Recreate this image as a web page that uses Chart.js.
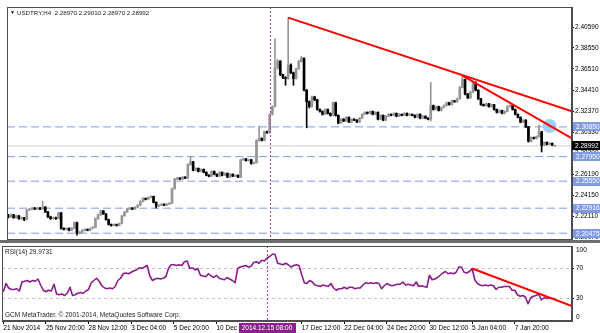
<!DOCTYPE html>
<html>
<head>
<meta charset="utf-8">
<script src="https://cdn.jsdelivr.net/npm/chart.js@4.4.1/dist/chart.umd.min.js"></script>
<style>
  html, body { margin: 0; padding: 0; background: #fff; }
  #wrap { position: relative; width: 600px; height: 333px; overflow: hidden; background: #fff; }
  canvas { position: absolute; left: 0; }
  #main { top: 0; }
  #rsi { top: 246px; }
</style>
</head>
<body>
<div id="wrap">
  <canvas id="main" width="600" height="247"></canvas>
  <canvas id="rsi" width="600" height="87"></canvas>
</div>
<script>
// USDTRY H4 bars
const open = [
  2.2215, 2.2208, 2.2227, 2.2199, 2.2217, 2.2189, 2.2199, 2.2180, 2.2274, 2.2283,
  2.2293, 2.2283, 2.2293, 2.2283, 2.2302, 2.2255, 2.2208, 2.2189, 2.2199, 2.2189,
  2.2246, 2.2095, 2.2085, 2.2095, 2.2076, 2.2095, 2.2151, 2.2048, 2.2057, 2.2076,
  2.2085, 2.2076, 2.2095, 2.2104, 2.2189, 2.2227, 2.2265, 2.2236, 2.2180, 2.2133,
  2.2123, 2.2133, 2.2123, 2.2142, 2.2217, 2.2255, 2.2283, 2.2293, 2.2283, 2.2302,
  2.2321, 2.2359, 2.2387, 2.2378, 2.2397, 2.2406, 2.2349, 2.2312, 2.2321, 2.2331,
  2.2321, 2.2331, 2.2340, 2.2481, 2.2576, 2.2585, 2.2576, 2.2595, 2.2585, 2.2717,
  2.2745, 2.2661, 2.2680, 2.2651, 2.2670, 2.2642, 2.2613, 2.2604, 2.2651, 2.2623,
  2.2604, 2.2642, 2.2613, 2.2632, 2.2595, 2.2623, 2.2604, 2.2613, 2.2595, 2.2764,
  2.2774, 2.2755, 2.2764, 2.2727, 2.2736, 2.2953, 2.2972, 2.2953, 2.3038, 2.3028,
  2.3208, 2.3283, 2.3660, 2.3726, 2.3594, 2.3566, 2.3557, 2.3689, 2.3613, 2.3557,
  2.3651, 2.3726, 2.3755, 2.3443, 2.3330, 2.3283, 2.3377, 2.3349, 2.3255, 2.3236,
  2.3208, 2.3255, 2.3217, 2.3198, 2.3321, 2.3198, 2.3123, 2.3160, 2.3142, 2.3179,
  2.3132, 2.3160, 2.3151, 2.3132, 2.3170, 2.3208, 2.3227, 2.3217, 2.3236, 2.3208,
  2.3227, 2.3160, 2.3198, 2.3151, 2.3189, 2.3208, 2.3198, 2.3217, 2.3189, 2.3208,
  2.3198, 2.3217, 2.3198, 2.3208, 2.3198, 2.3179, 2.3208, 2.3170, 2.3189, 2.3170,
  2.3160, 2.3293, 2.3255, 2.3283, 2.3245, 2.3274, 2.3293, 2.3321, 2.3302, 2.3340,
  2.3330, 2.3359, 2.3472, 2.3547, 2.3406, 2.3368, 2.3425, 2.3519, 2.3443, 2.3359,
  2.3302, 2.3293, 2.3311, 2.3283, 2.3302, 2.3255, 2.3227, 2.3245, 2.3217, 2.3236,
  2.3283, 2.3293, 2.3255, 2.3208, 2.3179, 2.3132, 2.3151, 2.3085, 2.2944, 2.2981,
  2.2972, 2.2991, 2.3038, 2.2906, 2.2934, 2.2915, 2.2925, 2.2897
];
const high = [
  2.2232, 2.2236, 2.2231, 2.2224, 2.2222, 2.2206, 2.2203, 2.2281, 2.2290, 2.2299,
  2.2298, 2.2297, 2.2300, 2.2359, 2.2308, 2.2260, 2.2214, 2.2205, 2.2204, 2.2252,
  2.2250, 2.2101, 2.2102, 2.2099, 2.2103, 2.2158, 2.2155, 2.2066, 2.2082, 2.2091,
  2.2090, 2.2100, 2.2112, 2.2196, 2.2235, 2.2272, 2.2270, 2.2240, 2.2185, 2.2138,
  2.2139, 2.2137, 2.2147, 2.2222, 2.2262, 2.2290, 2.2299, 2.2298, 2.2308, 2.2328,
  2.2366, 2.2394, 2.2392, 2.2403, 2.2414, 2.2410, 2.2354, 2.2327, 2.2336, 2.2335,
  2.2337, 2.2346, 2.2488, 2.2583, 2.2593, 2.2590, 2.2601, 2.2600, 2.2725, 2.2793,
  2.2750, 2.2687, 2.2685, 2.2676, 2.2675, 2.2647, 2.2619, 2.2657, 2.2655, 2.2628,
  2.2648, 2.2646, 2.2638, 2.2636, 2.2629, 2.2627, 2.2619, 2.2617, 2.2770, 2.2781,
  2.2778, 2.2770, 2.2768, 2.2742, 2.2960, 2.3094, 2.2978, 2.3044, 2.3045, 2.3215,
  2.3290, 2.3943, 2.3745, 2.3732, 2.3600, 2.3575, 2.4151, 2.3700, 2.3620, 2.3660,
  2.3735, 2.3775, 2.3760, 2.3450, 2.3340, 2.3385, 2.3384, 2.3355, 2.3262, 2.3242,
  2.3262, 2.3260, 2.3223, 2.3330, 2.3326, 2.3203, 2.3166, 2.3166, 2.3185, 2.3184,
  2.3166, 2.3165, 2.3156, 2.3176, 2.3214, 2.3233, 2.3232, 2.3242, 2.3240, 2.3233,
  2.3231, 2.3204, 2.3202, 2.3195, 2.3214, 2.3213, 2.3223, 2.3221, 2.3214, 2.3212,
  2.3223, 2.3221, 2.3214, 2.3212, 2.3203, 2.3214, 2.3212, 2.3195, 2.3193, 2.3175,
  2.3519, 2.3298, 2.3289, 2.3288, 2.3280, 2.3299, 2.3327, 2.3326, 2.3346, 2.3345,
  2.3365, 2.3479, 2.3585, 2.3552, 2.3412, 2.3432, 2.3535, 2.3525, 2.3448, 2.3364,
  2.3308, 2.3317, 2.3315, 2.3308, 2.3306, 2.3260, 2.3251, 2.3249, 2.3242, 2.3290,
  2.3300, 2.3297, 2.3260, 2.3213, 2.3184, 2.3157, 2.3156, 2.3090, 2.2987, 2.2986,
  2.2997, 2.3104, 2.3042, 2.2940, 2.2939, 2.2930, 2.2929, 2.2901
];
const low = [
  2.2196, 2.2201, 2.2192, 2.2194, 2.2183, 2.2184, 2.2171, 2.2176, 2.2268, 2.2277,
  2.2278, 2.2279, 2.2276, 2.2279, 2.2249, 2.2200, 2.2182, 2.2184, 2.2183, 2.2186,
  2.2088, 2.2078, 2.2080, 2.2070, 2.2072, 2.2090, 2.2029, 2.2040, 2.2052, 2.2070,
  2.2071, 2.2072, 2.2090, 2.2100, 2.2183, 2.2220, 2.2230, 2.2174, 2.2126, 2.2116,
  2.2118, 2.2117, 2.2119, 2.2138, 2.2212, 2.2250, 2.2278, 2.2277, 2.2279, 2.2297,
  2.2316, 2.2354, 2.2372, 2.2374, 2.2392, 2.2343, 2.2293, 2.2306, 2.2316, 2.2316,
  2.2317, 2.2326, 2.2336, 2.2476, 2.2570, 2.2570, 2.2571, 2.2580, 2.2580, 2.2711,
  2.2655, 2.2656, 2.2645, 2.2646, 2.2636, 2.2607, 2.2597, 2.2599, 2.2617, 2.2598,
  2.2600, 2.2607, 2.2608, 2.2589, 2.2590, 2.2598, 2.2599, 2.2589, 2.2590, 2.2758,
  2.2750, 2.2750, 2.2721, 2.2720, 2.2731, 2.2946, 2.2947, 2.2949, 2.3020, 2.3022,
  2.3200, 2.3278, 2.3650, 2.3585, 2.3555, 2.3491, 2.3550, 2.3605, 2.3491, 2.3550,
  2.3645, 2.3718, 2.3435, 2.3076, 2.3270, 2.3278, 2.3340, 2.3248, 2.3228, 2.3200,
  2.3203, 2.3210, 2.3190, 2.3193, 2.3190, 2.3115, 2.3118, 2.3136, 2.3137, 2.3126,
  2.3127, 2.3145, 2.3126, 2.3127, 2.3165, 2.3203, 2.3211, 2.3212, 2.3202, 2.3203,
  2.3153, 2.3155, 2.3144, 2.3146, 2.3184, 2.3192, 2.3193, 2.3183, 2.3184, 2.3192,
  2.3193, 2.3192, 2.3193, 2.3192, 2.3173, 2.3174, 2.3164, 2.3165, 2.3164, 2.3154,
  2.3142, 2.3248, 2.3250, 2.3239, 2.3240, 2.3269, 2.3288, 2.3296, 2.3297, 2.3324,
  2.3325, 2.3354, 2.3466, 2.3398, 2.3360, 2.3362, 2.3420, 2.3436, 2.3352, 2.3295,
  2.3287, 2.3288, 2.3277, 2.3278, 2.3249, 2.3220, 2.3222, 2.3211, 2.3212, 2.3231,
  2.3278, 2.3249, 2.3202, 2.3172, 2.3125, 2.3127, 2.3078, 2.2937, 2.2939, 2.2966,
  2.2966, 2.2985, 2.2840, 2.2900, 2.2909, 2.2910, 2.2901, 2.2897
];
const close = [
  2.2208, 2.2227, 2.2199, 2.2217, 2.2189, 2.2199, 2.2180, 2.2274, 2.2283, 2.2293,
  2.2283, 2.2293, 2.2283, 2.2302, 2.2255, 2.2208, 2.2189, 2.2199, 2.2189, 2.2246,
  2.2095, 2.2085, 2.2095, 2.2076, 2.2095, 2.2151, 2.2048, 2.2057, 2.2076, 2.2085,
  2.2076, 2.2095, 2.2104, 2.2189, 2.2227, 2.2265, 2.2236, 2.2180, 2.2133, 2.2123,
  2.2133, 2.2123, 2.2142, 2.2217, 2.2255, 2.2283, 2.2293, 2.2283, 2.2302, 2.2321,
  2.2359, 2.2387, 2.2378, 2.2397, 2.2406, 2.2349, 2.2312, 2.2321, 2.2331, 2.2321,
  2.2331, 2.2340, 2.2481, 2.2576, 2.2585, 2.2576, 2.2595, 2.2585, 2.2717, 2.2745,
  2.2661, 2.2680, 2.2651, 2.2670, 2.2642, 2.2613, 2.2604, 2.2651, 2.2623, 2.2604,
  2.2642, 2.2613, 2.2632, 2.2595, 2.2623, 2.2604, 2.2613, 2.2595, 2.2764, 2.2774,
  2.2755, 2.2764, 2.2727, 2.2736, 2.2953, 2.2972, 2.2953, 2.3038, 2.3028, 2.3208,
  2.3283, 2.3660, 2.3726, 2.3594, 2.3566, 2.3557, 2.3689, 2.3613, 2.3557, 2.3651,
  2.3726, 2.3755, 2.3443, 2.3330, 2.3283, 2.3377, 2.3349, 2.3255, 2.3236, 2.3208,
  2.3255, 2.3217, 2.3198, 2.3321, 2.3198, 2.3123, 2.3160, 2.3142, 2.3179, 2.3132,
  2.3160, 2.3151, 2.3132, 2.3170, 2.3208, 2.3227, 2.3217, 2.3236, 2.3208, 2.3227,
  2.3160, 2.3198, 2.3151, 2.3189, 2.3208, 2.3198, 2.3217, 2.3189, 2.3208, 2.3198,
  2.3217, 2.3198, 2.3208, 2.3198, 2.3179, 2.3208, 2.3170, 2.3189, 2.3170, 2.3160,
  2.3293, 2.3255, 2.3283, 2.3245, 2.3274, 2.3293, 2.3321, 2.3302, 2.3340, 2.3330,
  2.3359, 2.3472, 2.3547, 2.3406, 2.3368, 2.3425, 2.3519, 2.3443, 2.3359, 2.3302,
  2.3293, 2.3311, 2.3283, 2.3302, 2.3255, 2.3227, 2.3245, 2.3217, 2.3236, 2.3283,
  2.3293, 2.3255, 2.3208, 2.3179, 2.3132, 2.3151, 2.3085, 2.2944, 2.2981, 2.2972,
  2.2991, 2.3038, 2.2906, 2.2934, 2.2915, 2.2925, 2.2906, 2.28992
];
const rsi = [
  39, 50, 44, 42, 42, 43, 40, 52, 53, 54,
  52, 54, 53, 56, 48, 41, 39, 41, 40, 49,
  36, 35, 36, 34, 37, 45, 34, 35, 37, 38,
  37, 40, 42, 51, 54, 57, 53, 47, 44, 43,
  44, 43, 46, 54, 57, 63, 64, 63, 65, 67,
  68, 71, 70, 72, 74, 60, 54, 56, 57, 56,
  57, 59, 70, 75, 75, 74, 75, 74, 79, 80,
  70, 71, 68, 70, 61, 60, 59, 63, 60, 58,
  61, 57, 56, 55, 58, 56, 54, 51, 70, 72,
  73, 74, 72, 73, 78, 79, 77, 81, 80, 84,
  86, 89, 89, 77, 76, 75, 77, 75, 72, 74,
  75, 74, 62, 51, 50, 54, 52, 48, 47, 46,
  48, 47, 46, 50, 44, 41, 43, 43, 45, 43,
  45, 45, 43, 44, 44, 48, 51, 50, 51, 50,
  51, 50, 43, 47, 50, 48, 47, 48, 49, 49,
  52, 48, 49, 48, 47, 52, 46, 47, 46, 45,
  61, 55, 56, 58, 61, 64, 66, 63, 64, 63,
  65, 72, 72, 65, 64, 66, 70, 55, 50, 48,
  47, 48, 47, 48, 47, 42, 45, 45, 46, 46,
  46, 41, 41, 35, 33, 34, 32, 23, 31, 33,
  34, 36, 28, 31, 30, 31, 30, 29.9731
];

// time axis: bar index -> label
const xTickBars = [0, 16, 32, 48, 64, 80, 112, 128, 144, 160, 176, 192];
const xTickText = ['21 Nov 2014', '25 Nov 20:00', '28 Nov 12:00', '3 Dec 04:00', '5 Dec 20:00', '10 Dec 12:00',
  '17 Dec 12:00', '22 Dec 04:00', '24 Dec 20:00', '30 Dec 12:00', '5 Jan 04:00', '7 Jan 20:00'];
const priceTicks = [2.40590, 2.38550, 2.36510, 2.34410, 2.32370, 2.30330, 2.28290, 2.26190, 2.24150, 2.22110, 2.20070];
const rsiTicks = [0, 30, 70, 100];
const rsiLevels = [70, 30];

// drawn objects
const levelPrices = [2.30850, 2.27950, 2.25550, 2.22916, 2.20475];
const trendA = [{x: 106, y: 2.4151}, {x: 213.5, y: 2.3236}];
const trendB = [{x: 172, y: 2.3585}, {x: 213.5, y: 2.2972}];
const rsiTrend = [{x: 176, y: 70}, {x: 213.5, y: 20}];
const marker = [{x: 205, y: 2.3094, r: 7}];
const crossBar = 99;
const crossLabel = '2014.12.15 08:00';

const SLOTS = 214;
const X_MIN = -0.5, X_MAX = SLOTS - 0.5;
const last = close.length - 1;
const bid = close[last];

const FONT = '"Liberation Sans", Arial, sans-serif';
const FS = 6.5;
Chart.defaults.font.family = FONT;
Chart.defaults.font.size = FS;
Chart.defaults.color = '#000';

const UP = '#969696', DOWN = '#000000';
const candleCol = close.map((c, i) => c >= open[i] ? UP : DOWN);

function hLine(y, color, dash) {
  return { type: 'line', data: [{x: X_MIN, y}, {x: X_MAX, y}], borderColor: color, borderWidth: 1,
    borderDash: dash, pointRadius: 0, order: 5 };
}

function fitRight(s) { s.width = 28; s.paddingTop = 0; s.paddingBottom = 0; }

const crosshair = {
  id: 'crosshair',
  afterDatasetsDraw(chart) {
    const {ctx, chartArea: a} = chart;
    const x = Math.round(chart.scales.x.getPixelForValue(crossBar)) + 0.5;
    ctx.save();
    ctx.strokeStyle = '#b23cb2';
    ctx.setLineDash([2, 2]);
    ctx.beginPath();
    ctx.moveTo(x, a.top);
    ctx.lineTo(x, a.bottom);
    ctx.stroke();
    ctx.restore();
  }
};

function frame(ctx, a) {
  ctx.save();
  ctx.strokeStyle = '#4d4d4d';
  ctx.lineWidth = 1;
  ctx.strokeRect(a.left + 0.5, a.top + 0.5, a.right - a.left - 1, a.bottom - a.top - 1);
  ctx.restore();
}

function tag(ctx, x, y, w, text, bg, fg) {
  ctx.fillStyle = bg;
  ctx.fillRect(x, Math.round(y - 4.5), w, 9);
  ctx.fillStyle = fg;
  ctx.textBaseline = 'middle';
  ctx.textAlign = 'left';
  ctx.fillText(text, x + 3, y + 0.5);
}

const mainOverlay = {
  id: 'mainOverlay',
  afterDraw(chart) {
    const {ctx, chartArea: a} = chart;
    const ys = chart.scales.y;
    frame(ctx, a);
    ctx.save();
    ctx.font = FS + 'px ' + FONT;
    levelPrices.forEach(p => tag(ctx, a.right + 1, ys.getPixelForValue(p), 27, p.toFixed(5), '#7f9be4', '#fff'));
    tag(ctx, a.right, ys.getPixelForValue(bid), 28, bid.toFixed(5), '#000', '#fff');
    // header
    ctx.fillStyle = '#000';
    ctx.textBaseline = 'middle';
    ctx.textAlign = 'left';
    ctx.font = '5px ' + FONT;
    ctx.fillText('\u25BC', a.left + 3, a.top + 6);
    ctx.font = '6.2px ' + FONT;
    ctx.fillStyle = '#222';
    ctx.fillText('USDTRY,H4  ' + [open[last], high[last], low[last], close[last]].map(v => v.toFixed(5)).join(' '),
      a.left + 10, a.top + 6);
    // panel separator
    ctx.fillStyle = '#6e6e6e';
    ctx.fillRect(0, a.bottom, 600, 3);
    ctx.restore();
  }
};

const rsiOverlay = {
  id: 'rsiOverlay',
  afterDraw(chart) {
    const {ctx, chartArea: a} = chart;
    const ys = chart.scales.y;
    frame(ctx, a);
    ctx.save();
    ctx.font = FS + 'px ' + FONT;
    ctx.fillStyle = '#000';
    ctx.textAlign = 'left';
    ctx.textBaseline = 'middle';
    ctx.fillText('100', a.right + 4, ys.getPixelForValue(100) + 4);
    ctx.fillText('0', a.right + 4, ys.getPixelForValue(0) - 4);
    ctx.fillStyle = '#222';
    ctx.fillText('RSI(14) ' + rsi[last].toFixed(4), a.left + 3, a.top + 6);
    ctx.fillText('GCM MetaTrader. \u00A9 2001-2014, MetaQuotes Software Corp.', a.left + 3, a.bottom - 6);
    // crosshair time tag
    const x = chart.scales.x.getPixelForValue(crossBar);
    const w = ctx.measureText(crossLabel).width + 6;
    ctx.fillStyle = '#8e1f8e';
    ctx.fillRect(Math.round(x - w / 2), a.bottom + 2, Math.round(w), 10);
    ctx.fillStyle = '#fff';
    ctx.textAlign = 'center';
    ctx.fillText(crossLabel, x, a.bottom + 7);
    ctx.restore();
  }
};

new Chart(document.getElementById('main'), {
  type: 'bar',
  data: {
    datasets: [
      { type: 'line', data: trendA, borderColor: '#ff0000', borderWidth: 2, pointRadius: 0, order: 0 },
      { type: 'line', data: trendB, borderColor: '#ff0000', borderWidth: 2, pointRadius: 0, order: 0 },
      { type: 'bubble', data: marker, backgroundColor: 'rgba(120,190,238,0.7)', borderWidth: 0, order: 1 },
      { type: 'bar', data: open.map((o, i) => ({x: i, y: [o, close[i]]})), backgroundColor: candleCol,
        barThickness: 2, minBarLength: 1, grouped: false, order: 2 },
      { type: 'bar', data: low.map((l, i) => ({x: i, y: [l, high[i]]})), backgroundColor: candleCol,
        barThickness: 1, grouped: false, order: 3 },
      ...levelPrices.map(p => hLine(p, '#7f9be4', [8, 4])),
      hLine(bid, '#cfcfcf', [])
    ]
  },
  options: {
    responsive: false,
    animation: false,
    layout: { padding: { left: 2, top: 2, right: 0, bottom: 4 } },
    plugins: { legend: { display: false }, tooltip: { enabled: false } },
    scales: {
      x: { type: 'linear', min: X_MIN, max: X_MAX, offset: false, display: false },
      y: {
        position: 'right', min: 2.19812, max: 2.42548,
        afterBuildTicks: s => { s.ticks = priceTicks.map(v => ({value: v})); },
        afterFit: fitRight,
        ticks: { padding: 1, color: '#000', callback: v => Number(v).toFixed(5) },
        grid: { drawOnChartArea: false, drawTicks: true, tickLength: 2, color: '#000' },
        border: { display: true, color: '#4d4d4d' }
      }
    }
  },
  plugins: [crosshair, mainOverlay]
});

new Chart(document.getElementById('rsi'), {
  type: 'line',
  data: {
    datasets: [
      { data: rsiTrend, borderColor: '#ff0000', borderWidth: 2, pointRadius: 0, order: 0 },
      { data: rsi.map((v, i) => ({x: i, y: v})), borderColor: '#8b1c8b', borderWidth: 1.6, pointRadius: 0,
        borderJoinStyle: 'round', order: 1 },
      ...rsiLevels.map(v => ({ data: [{x: X_MIN, y: v}, {x: X_MAX, y: v}], borderColor: '#c4c4c4', borderWidth: 1,
        borderDash: [3, 3], pointRadius: 0, order: 2 }))
    ]
  },
  options: {
    responsive: false,
    animation: false,
    layout: { padding: { left: 2, top: 0, right: 0, bottom: 0 } },
    plugins: { legend: { display: false }, tooltip: { enabled: false } },
    scales: {
      x: {
        type: 'linear', min: X_MIN, max: X_MAX, offset: false,
        afterBuildTicks: s => { s.ticks = xTickBars.map(v => ({value: v})); },
        afterFit: s => { s.height = 12; s.paddingLeft = 0; s.paddingRight = 0; },
        ticks: { autoSkip: false, maxRotation: 0, minRotation: 0, align: 'start', padding: 0, color: '#000',
          callback: v => xTickText[xTickBars.indexOf(v)] },
        grid: { drawOnChartArea: false, drawTicks: true, tickLength: 3, color: '#000' },
        border: { display: true, color: '#4d4d4d' }
      },
      y: {
        position: 'right', min: 0, max: 100,
        afterBuildTicks: s => { s.ticks = rsiTicks.map(v => ({value: v})); },
        afterFit: fitRight,
        ticks: { padding: 2, color: '#000', callback: v => (v === 0 || v === 100) ? null : String(v) },
        grid: { drawOnChartArea: false, drawTicks: true, tickLength: 2, color: '#000' },
        border: { display: true, color: '#4d4d4d' }
      }
    }
  },
  plugins: [crosshair, rsiOverlay]
});
</script>
</body>
</html>
